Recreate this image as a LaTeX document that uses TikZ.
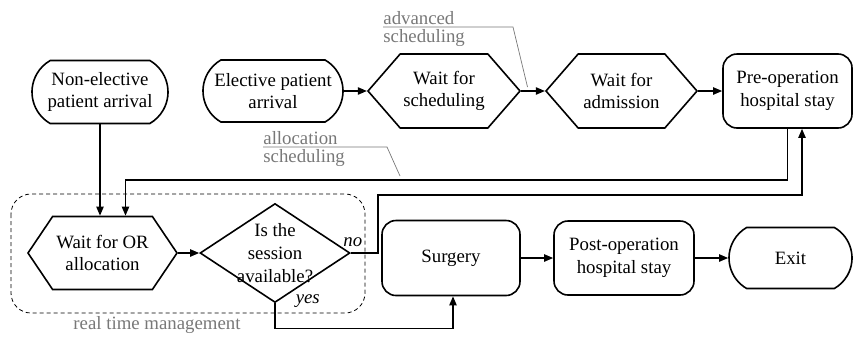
\documentclass[tikz,border=0pt]{standalone}
\usepackage{fontspec}
\setmainfont{Liberation Serif}
\newfontfamily\diagfont{Liberation Serif}
\usepackage{tikz}
\usetikzlibrary{positioning,arrows.meta,shapes.geometric,shapes.misc,shapes.symbols,calc}
\definecolor{notegray}{RGB}{120,120,120}
\tikzset{
  txt/.style={font=\diagfont\fontsize{9.4}{11.4}\selectfont, align=center},
  term/.style n args={2}{draw, line width=0.8pt, rounded rectangle, rounded rectangle arc length=120, txt, inner sep=0pt, minimum width=#1, minimum height=#2},
  stay/.style n args={2}{draw, line width=0.8pt, rounded corners=7pt, txt, inner sep=0pt, minimum width=#1, minimum height=#2},
  hexa/.style n args={3}{draw, line width=0.8pt, signal, signal to=east and west, signal from=nowhere, signal pointer angle=#1, txt, inner sep=0pt, minimum width=#2, minimum height=#3},
  decide/.style n args={2}{draw, line width=0.8pt, diamond, inner sep=0pt, minimum width=#1, minimum height=#2},
  arrow/.style={-{Triangle[length=4.5pt, width=3.6pt]}, line width=0.8pt},
  ans/.style={font=\diagfont\fontsize{9.4}{11.4}\selectfont\itshape, inner sep=1pt},
  note/.style={font=\diagfont\fontsize{9.4}{11.4}\selectfont, text=notegray, inner xsep=0pt, inner ysep=1pt},
  noteline/.style={draw=notegray, line width=0.35pt},
  region/.style={dashed, dash pattern=on 2pt off 1.5pt, line width=0.4pt, rounded corners=10pt}
}
\begin{document}
\begin{tikzpicture}[x=0.5pt, y=-0.5pt]
    \useasboundingbox (0,0) rectangle (855,338);
    % top row
    \node[term={68pt}{31.5pt}] (nonel) at (100,92) {Non-elective\\patient arrival};
    \node[term={70pt}{31pt}] (elec) at (273,91) {Elective patient\\arrival};
    \node[hexa={98}{76pt}{37pt}] (wsched) at (444,91) {Wait for\\scheduling};
    \node[hexa={98}{75.5pt}{37pt}] (wadm) at (621.5,91) {Wait for\\admission};
    \node[stay={64.5pt}{37pt}] (preop) at (787.5,91) {Pre-operation\\hospital stay};
    % bottom row
    \node[hexa={112}{74.5pt}{36.5pt}] (wor) at (102.5,253) {Wait for OR\\allocation};
    \node[decide={75pt}{49.5pt}, label={[txt]center:Is the\\session\\available?}] (dec) at (275,253) {};
    \node[stay={69pt}{37.5pt}] (surg) at (451,258) {Surgery};
    \node[stay={70pt}{37pt}] (post) at (624,258) {Post-operation\\hospital stay};
    \node[term={61.5pt}{30.5pt}] (exit) at (790.5,258) {Exit};
    % real time management
    \draw[region] (11,194) rectangle (365,313);
    \node[note] (rtm) at (157,325) {real time management};
    % flow
    \draw[arrow] (elec) -- (wsched);
    \draw[arrow] (wsched) -- (wadm);
    \draw[arrow] (wadm) -- (preop);
    \draw[arrow] (nonel.south) -- (nonel.south |- wor.north);
    \draw[arrow] (preop.south) -- ++(0,51) -| ($(wor.north)+(23,0)$);
    \draw[arrow] (wor) -- (dec);
    \coordinate (back) at ($(preop.south)+(14.5,0)$);
    \draw[arrow] (dec.east) node[ans, above=2pt, xshift=1pt] (no) {no} -- ++(27,0) |- ($(back)+(0,66)$) -- (back);
    \draw[arrow] (dec.south) node[ans, right=9pt, yshift=1pt] (yes) {yes} -- ++(0,25) -| ($(surg.south)+(2,0)$);
    \draw[arrow] (surg) -- (post);
    \draw[arrow] (post) -- (exit);
    % notes
    \node[note, anchor=south west] (advA) at (383,27) {advanced};
    \node[note, anchor=north west] (advB) at (383,27) {scheduling};
    \coordinate (advtip) at ($(wsched.east)!0.27!(wadm.west)+(0,-4)$);
    \draw[noteline] (advA.south west) -- ++(130,0) -- (advtip);
    \node[note, anchor=south west] (allocA) at (263,147) {allocation};
    \node[note, anchor=north west] (allocB) at (263,147) {scheduling};
    \coordinate (alloctip) at (400,176);
    \draw[noteline] (allocA.south west) -- ++(124,0) -- (alloctip);
\end{tikzpicture}
\end{document}
